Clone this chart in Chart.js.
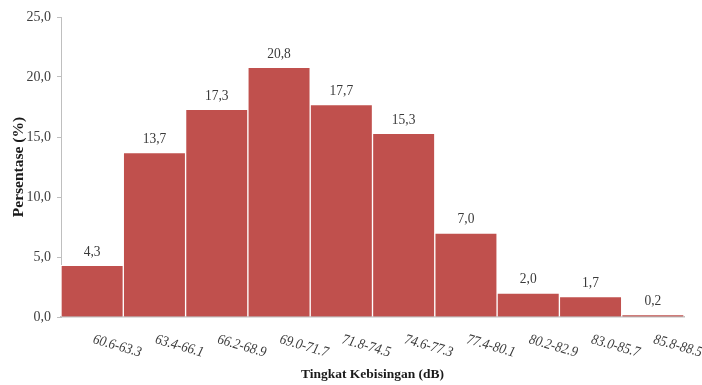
<!DOCTYPE html>
<html>
<head>
<meta charset="utf-8">
<script src="https://cdn.jsdelivr.net/npm/chart.js@4"></script>
<style>
  html, body { margin: 0; padding: 0; background: #fff; }
  #wrap { width: 702px; height: 385px; position: relative; }
</style>
</head>
<body>
<div id="wrap"><canvas id="c" width="702" height="385"></canvas></div>
<script>
const categories = ['60.6-63.3','63.4-66.1','66.2-68.9','69.0-71.7','71.8-74.5','74.6-77.3','77.4-80.1','80.2-82.9','83.0-85.7','85.8-88.5'];
const percentages = [4.3, 13.7, 17.3, 20.8, 17.7, 15.3, 7.0, 2.0, 1.7, 0.2];
const yTicks = [0, 5, 10, 15, 20, 25];
const yTitle = 'Persentase (%)';
const xTitle = 'Tingkat Kebisingan (dB)';

const fmt = v => v.toFixed(1).replace('.', ',');
const SERIF = '"Liberation Serif", "DejaVu Serif", serif';

const overlay = {
  id: 'overlay',
  afterDatasetsDraw(chart) {
    const ctx = chart.ctx;
    const meta = chart.getDatasetMeta(0);
    ctx.save();
    ctx.font = '13.5px ' + SERIF;
    ctx.fillStyle = '#3a3a3a';
    ctx.textAlign = 'center';
    ctx.textBaseline = 'bottom';
    meta.data.forEach((bar, i) => {
      ctx.save();
      ctx.translate(bar.x, bar.y - 6);
      ctx.scale(1, 1.15);
      ctx.fillText(fmt(percentages[i]), 0, 0);
      ctx.restore();
    });
    // rotated x labels starting at each category centre
    const xs = chart.scales.x;
    ctx.font = 'italic 13px ' + SERIF;
    ctx.textAlign = 'left';
    ctx.textBaseline = 'alphabetic';
    categories.forEach((lab, i) => {
      const px = xs.getPixelForValue(i);
      ctx.save();
      ctx.translate(px, chart.chartArea.bottom + 26);
      ctx.rotate(16 * Math.PI / 180);
      ctx.scale(1, 1.12);
      ctx.fillText(lab, 0, 0);
      ctx.restore();
    });
    ctx.restore();
  }
};

new Chart(document.getElementById('c'), {
  type: 'bar',
  data: {
    labels: categories,
    datasets: [{
      data: percentages,
      backgroundColor: '#C0504D',
      borderColor: '#ffffff',
      borderWidth: 1,
      borderSkipped: 'bottom',
      barPercentage: 1,
      categoryPercentage: 1
    }]
  },
  options: {
    responsive: false,
    animation: false,
    devicePixelRatio: 1,
    layout: { padding: { top: 17, right: 18, bottom: 0, left: 0 } },
    plugins: { legend: { display: false }, tooltip: { enabled: false } },
    scales: {
      x: {
        grid: { display: false },
        border: { display: true, color: '#bfbfbf', width: 1.5 },
        ticks: { display: false },
        title: {
          display: true, text: xTitle, color: '#1a1a1a',
          font: { family: SERIF, size: 13.5, weight: 'bold' },
          padding: { top: 0, bottom: 2 }
        },
        afterFit(s) { s.height = 68; }
      },
      y: {
        min: 0, max: 25,
        afterBuildTicks(s) { s.ticks = yTicks.map(v => ({ value: v })); },
        grid: { display: true, drawOnChartArea: false, drawTicks: true, tickLength: 4, color: '#bfbfbf' },
        border: { display: true, color: '#bfbfbf', width: 1 },
        ticks: {
          color: '#404040', padding: 6,
          font: { family: SERIF, size: 14 },
          callback: v => fmt(v)
        },
        title: {
          display: true, text: yTitle, color: '#1a1a1a',
          font: { family: SERIF, size: 15.5, weight: 'bold' },
          padding: { top: 10, bottom: 0 }
        },
        afterFit(s) { s.width = 61; }
      }
    }
  },
  plugins: [overlay]
});
</script>
</body>
</html>
